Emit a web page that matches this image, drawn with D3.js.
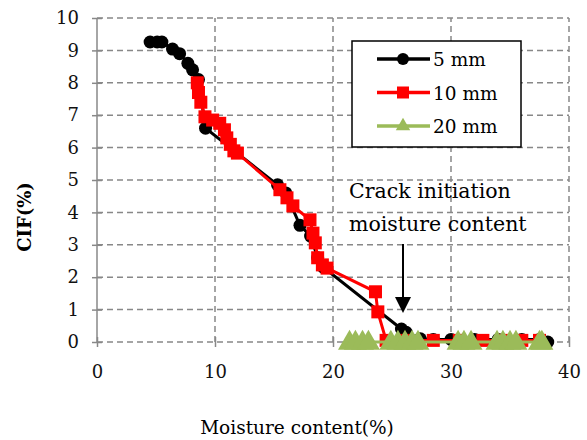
<!DOCTYPE html>
<html>
<head>
<meta charset="utf-8">
<script src="https://cdn.jsdelivr.net/npm/d3@7"></script>
<style>
  body { margin: 0; background: #fff; }
</style>
</head>
<body>
<div id="chart"></div>
<script>
// moisture content (%) / CIF (%)
const mm5X = [4.5, 5.1, 5.5, 6.4, 7.0, 7.7, 8.1, 8.6, 9.2, 15.3, 16.0, 17.2, 18.1, 18.7, 19.2, 25.8, 26.2, 27.4, 28.5, 30, 32, 34, 36, 37.5, 38.2];
const mm5Y = [9.26, 9.26, 9.26, 9.04, 8.9, 8.6, 8.4, 8.1, 6.6, 4.85, 4.6, 3.6, 3.27, 2.6, 2.3, 0.4, 0.3, 0.1, 0.08, 0.08, 0.08, 0.08, 0.08, 0.08, 0.0];
const mm10X = [8.5, 8.6, 8.8, 9.15, 9.8, 10.4, 10.8, 11.0, 11.3, 11.6, 11.9, 15.5, 16.1, 16.6, 18.05, 18.3, 18.5, 18.7, 19.1, 19.5, 23.6, 23.8, 24.5, 26, 28.5, 30.7, 32.7, 34.5, 36, 37.5];
const mm10Y = [8.0, 7.7, 7.4, 6.95, 6.85, 6.75, 6.55, 6.3, 6.1, 5.9, 5.83, 4.7, 4.45, 4.2, 3.77, 3.36, 3.06, 2.6, 2.38, 2.28, 1.55, 0.93, 0.05, 0.05, 0.05, 0.05, 0.05, 0.05, 0.05, 0.05];
const mm20X = [21.4, 21.9, 22.5, 23.0, 24.9, 25.5, 26.1, 26.7, 27.2, 30.6, 31.1, 31.7, 33.9, 34.4, 35.0, 35.5, 37.5, 37.7];
const mm20Y = [0, 0, 0, 0, 0, 0, 0, 0, 0, 0, 0, 0, 0, 0, 0, 0, 0, 0];
const xTicks = [0, 10, 20, 30, 40];
const yTicks = [0, 1, 2, 3, 4, 5, 6, 7, 8, 9, 10];
const seriesNames = ["5 mm", "10 mm", "20 mm"];

const font = "DejaVu Serif";
const width = 587, height = 440;
const svg = d3.select("#chart").append("svg").attr("width", width).attr("height", height);

const x = d3.scaleLinear().domain([0, 40]).range([97, 569]);
const y = d3.scaleLinear().domain([0, 10]).range([342, 18]);

// grid
svg.append("g").selectAll("line").data(yTicks).join("line")
  .attr("x1", x(0)).attr("x2", x(40)).attr("y1", d => y(d)).attr("y2", d => y(d))
  .attr("stroke", "#888").attr("stroke-width", 1.5).attr("stroke-dasharray", "6,4");
svg.append("g").selectAll("line").data(xTicks.slice(1)).join("line")
  .attr("x1", d => x(d)).attr("x2", d => x(d)).attr("y1", y(0)).attr("y2", y(10))
  .attr("stroke", "#888").attr("stroke-width", 1.5).attr("stroke-dasharray", "6,4");

// axes
const yAxis = svg.append("g").attr("transform", `translate(${x(0)},0)`)
  .call(d3.axisLeft(y).tickValues(yTicks).tickSize(5).tickPadding(13));
const xAxis = svg.append("g").attr("transform", `translate(0,${y(0)})`)
  .call(d3.axisBottom(x).tickValues(xTicks).tickSize(5).tickPadding(18));
[yAxis, xAxis].forEach(g => {
  g.attr("font-family", font).attr("font-size", 18);
  g.select(".domain").remove();
  g.selectAll(".tick line").attr("stroke", "#888").attr("stroke-width", 1.5);
  g.selectAll("text").attr("fill", "#111");
});
yAxis.selectAll(".tick line").attr("x1", 5);
xAxis.selectAll(".tick line").attr("y1", -5);
svg.append("line").attr("x1", x(0)).attr("x2", x(0)).attr("y1", y(0)).attr("y2", y(10))
  .attr("stroke", "#888").attr("stroke-width", 1.5);

// series
const line = d3.line().x(d => x(d[0])).y(d => y(d[1]));
const pts5 = mm5X.map((v, i) => [v, mm5Y[i]]);
const pts10 = mm10X.map((v, i) => [v, mm10Y[i]]);
const pts20 = mm20X.map((v, i) => [v, mm20Y[i]]);

svg.append("path").datum(pts5).attr("d", line).attr("fill", "none").attr("stroke", "#000").attr("stroke-width", 3);
svg.append("g").selectAll("circle").data(pts5).join("circle")
  .attr("cx", d => x(d[0])).attr("cy", d => y(d[1])).attr("r", 6.5).attr("fill", "#000");

svg.append("path").datum(pts10).attr("d", line).attr("fill", "none").attr("stroke", "#ff0000").attr("stroke-width", 3);
svg.append("g").selectAll("rect").data(pts10).join("rect")
  .attr("x", d => x(d[0]) - 6.5).attr("y", d => y(d[1]) - 6.5).attr("width", 13).attr("height", 13).attr("fill", "#ff0000");

const tri = d3.symbol().type(d3.symbolTriangle).size(230);
svg.append("path").datum(pts20).attr("d", line).attr("fill", "none").attr("stroke", "#9bbb59").attr("stroke-width", 3);
svg.append("g").selectAll("path").data(pts20).join("path")
  .attr("d", tri).attr("transform", d => `translate(${x(d[0])},${y(d[1]) + 1})`).attr("fill", "#9bbb59");

// annotation
const note = svg.append("g").attr("font-family", font).attr("font-size", 20.5).attr("fill", "#000");
note.append("text").attr("x", 349).attr("y", 198).text("Crack initiation");
note.append("text").attr("x", 349).attr("y", 231).text("moisture content");
svg.append("line").attr("x1", 403).attr("x2", 403).attr("y1", 244).attr("y2", 300).attr("stroke", "#000").attr("stroke-width", 2);
svg.append("path").attr("d", "M395,297 L411,297 L403,313 Z").attr("fill", "#000");

// legend
const legend = svg.append("g").attr("font-family", font);
legend.append("rect").attr("x", 352).attr("y", 41).attr("width", 169).attr("height", 106)
  .attr("fill", "#fff").attr("stroke", "#000").attr("stroke-width", 1.5);
const colors = ["#000", "#ff0000", "#9bbb59"];
seriesNames.forEach((name, i) => {
  const yy = 59 + i * 33.5;
  legend.append("line").attr("x1", 377).attr("x2", 430).attr("y1", yy).attr("y2", yy)
    .attr("stroke", colors[i]).attr("stroke-width", 3.5);
  if (i === 0) legend.append("circle").attr("cx", 403).attr("cy", yy).attr("r", 6).attr("fill", colors[i]);
  if (i === 1) legend.append("rect").attr("x", 397).attr("y", yy - 6).attr("width", 12).attr("height", 12).attr("fill", colors[i]);
  if (i === 2) legend.append("path").attr("d", d3.symbol().type(d3.symbolTriangle).size(90)).attr("transform", `translate(403,${yy})`).attr("fill", colors[i]);
  legend.append("text").attr("x", 433).attr("y", yy + 7).attr("font-size", 18.5).attr("fill", "#000").text(name);
});

// axis titles
svg.append("text").attr("transform", "translate(31,217) rotate(-90)").attr("text-anchor", "middle")
  .attr("font-family", font).attr("font-size", 18).attr("font-weight", "bold").attr("fill", "#000").text("CIF(%)");
svg.append("text").attr("x", 297).attr("y", 434).attr("text-anchor", "middle")
  .attr("font-family", font).attr("font-size", 18.5).attr("fill", "#000").text("Moisture content(%)");
</script>
</body>
</html>
